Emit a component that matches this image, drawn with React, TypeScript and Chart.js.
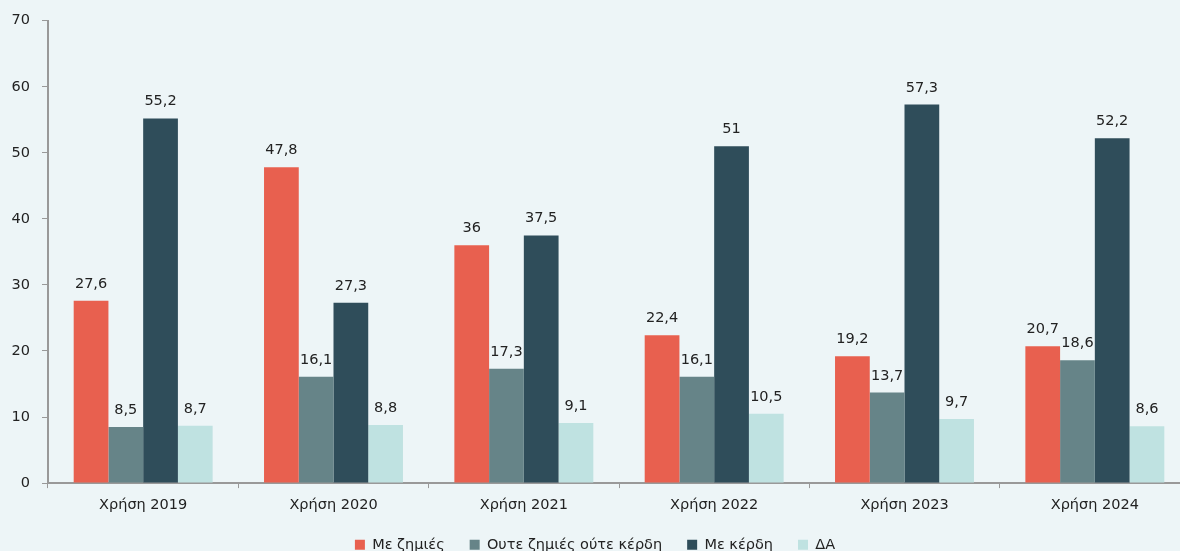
import React, { useEffect, useRef } from "react";
import { Chart, registerables } from "chart.js";

Chart.register(...registerables);

const categories = ["Χρήση 2019", "Χρήση 2020", "Χρήση 2021", "Χρήση 2022", "Χρήση 2023", "Χρήση 2024"];
const seriesNames = ["Με ζημιές", "Ουτε ζημιές ούτε κέρδη", "Με κέρδη", "ΔΑ"];
const withLosses = [27.6, 47.8, 36, 22.4, 19.2, 20.7];
const neither = [8.5, 16.1, 17.3, 16.1, 13.7, 18.6];
const withProfits = [55.2, 27.3, 37.5, 51, 57.3, 52.2];
const noAnswer = [8.7, 8.8, 9.1, 10.5, 9.7, 8.6];
const yTicks = [0, 10, 20, 30, 40, 50, 60, 70];

const colors = ["#E8604F", "#668488", "#2F4D5A", "#BFE2E1"];
const FONT = "'DejaVu Sans', sans-serif";

const valueLabels = {
  id: "valueLabels",
  afterDatasetsDraw(chart: any) {
    const ctx = chart.ctx;
    ctx.save();
    ctx.font = `14.5px ${FONT}`;
    ctx.fillStyle = "#222222";
    ctx.textAlign = "center";
    ctx.textBaseline = "alphabetic";
    chart.data.datasets.forEach((ds: any, i: number) => {
      const meta = chart.getDatasetMeta(i);
      meta.data.forEach((bar: any, j: number) => {
        const v = ds.data[j];
        ctx.fillText(String(v).replace(".", ","), bar.x, bar.y - 13);
      });
    });
    ctx.restore();
  },
};

export default function App() {
  const ref = useRef<HTMLCanvasElement | null>(null);
  useEffect(() => {
    if (!ref.current) return;
    const data = [withLosses, neither, withProfits, noAnswer];
    const chart = new Chart(ref.current, {
      type: "bar",
      data: {
        labels: categories,
        datasets: seriesNames.map((name, i) => ({
          label: name,
          data: data[i],
          backgroundColor: colors[i],
          borderWidth: 0,
          barPercentage: 1,
          categoryPercentage: 0.73,
        })),
      },
      options: {
        responsive: false,
        animation: false,
        layout: { padding: { left: 0, right: 10, top: 14, bottom: -11 } },
        plugins: {
          legend: {
            position: "bottom",
            labels: {
              boxWidth: 10,
              boxHeight: 10,
              padding: 25,
              color: "#222222",
              font: { family: FONT, size: 14.5 },
            },
          },
          tooltip: { enabled: false },
        },
        scales: {
          x: {
            grid: { display: true, drawOnChartArea: false, tickLength: 5, color: "#999999", offset: true },
            border: { display: true, color: "#999999", width: 2 },
            ticks: { color: "#222222", font: { family: FONT, size: 14.5 }, padding: 8, maxRotation: 0 },
            afterFit(scale: any) {
              scale.height = scale.height - 9;
            },
          },
          y: {
            min: 0,
            max: 70,
            afterBuildTicks(scale: any) {
              scale.ticks = yTicks.map((v) => ({ value: v }));
            },
            afterFit(scale: any) {
              scale.width = 48;
            },
            grid: { display: true, drawOnChartArea: false, tickLength: 6, color: "#999999" },
            border: { display: true, color: "#999999", width: 2 },
            ticks: { color: "#222222", font: { family: FONT, size: 14.5 }, padding: 12 },
          },
        },
      },
      plugins: [valueLabels],
    });
    return () => chart.destroy();
  }, []);
  return (
    <div
      style={{
        position: "fixed",
        left: 0,
        top: 0,
        width: 1180,
        height: 551,
        overflow: "hidden",
        background: "#EDF5F7",
      }}
    >
      <canvas ref={ref} width={1200} height={551} style={{ display: "block" }} />
    </div>
  );
}
